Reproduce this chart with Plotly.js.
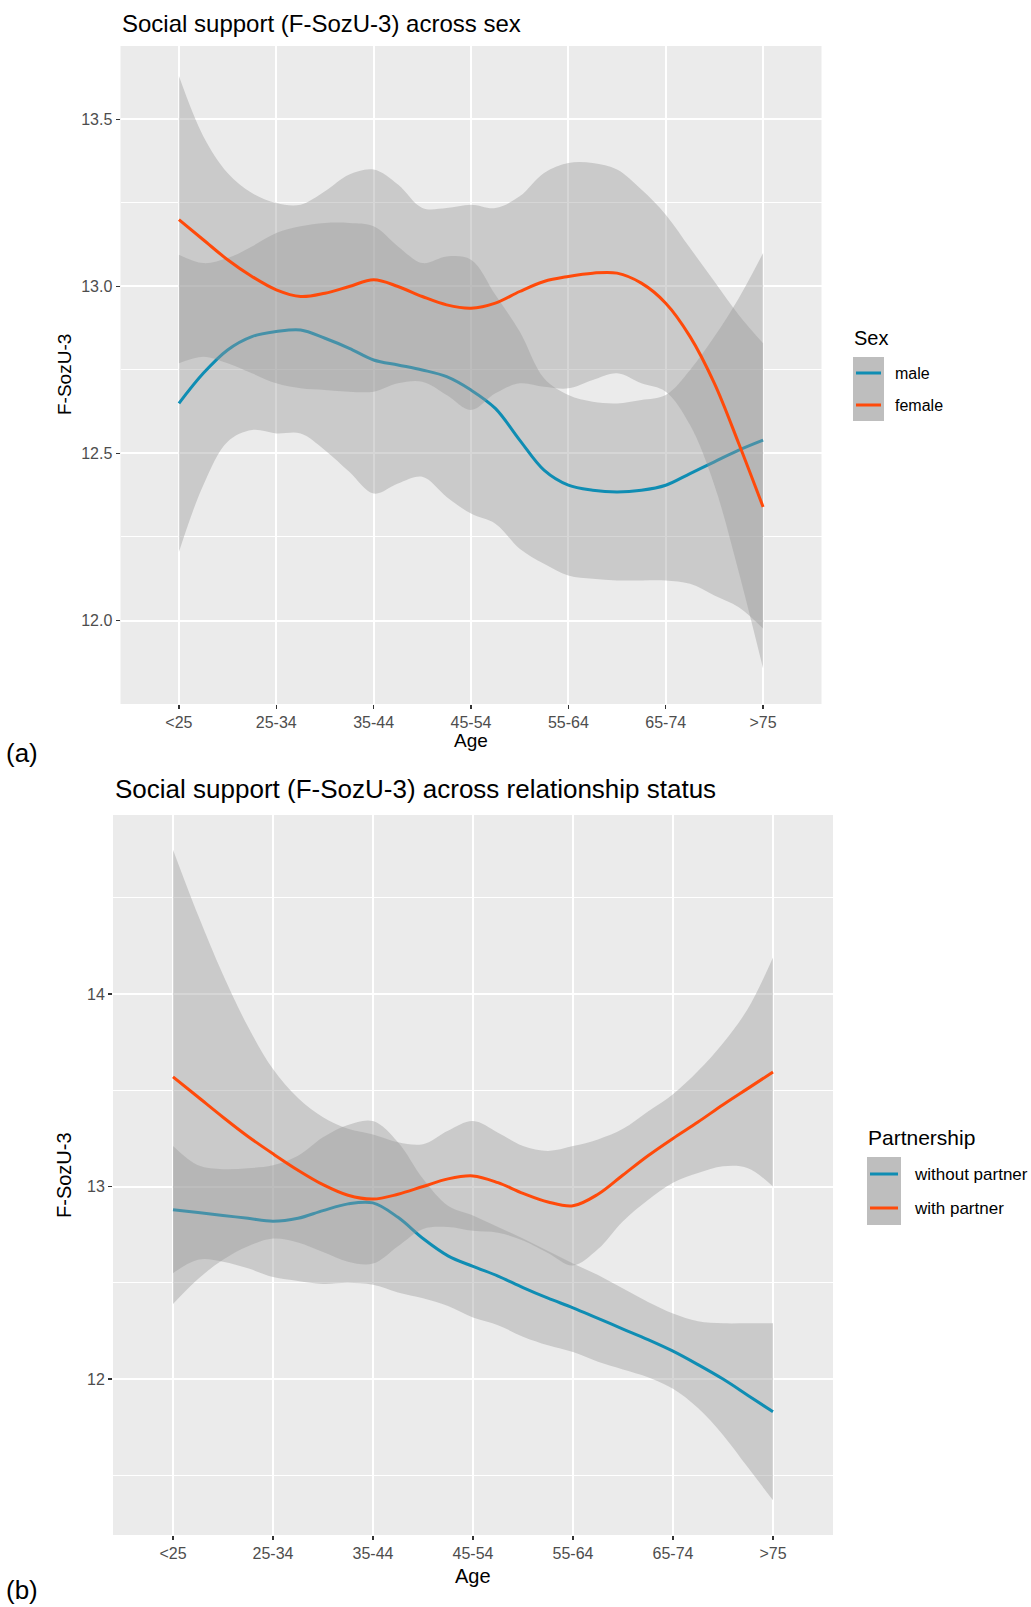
<!DOCTYPE html>
<html>
<head>
<meta charset="utf-8">
<script src="https://cdn.plot.ly/plotly-3.0.1.min.js"></script>
<style>html,body{margin:0;padding:0;background:#fff;}#chart{width:1031px;height:1607px;}</style>
</head>
<body>
<div id="chart"></div>
<script>
// ---------- data ----------
const ageLabels = ['<25', '25-34', '35-44', '45-54', '55-64', '65-74', '>75'];
const ageTicks = [0, 1, 2, 3, 4, 5, 6];
const xPos = [0, 0.25, 0.5, 0.75, 1, 1.25, 1.5, 1.75, 2, 2.25, 2.5, 2.75, 3, 3.25, 3.5, 3.75, 4, 4.25, 4.5, 4.75, 5, 5.25, 5.5, 5.75, 6];

// panel (a): sex
const sexGroups = ['male', 'female'];
const maleFit   = [12.65, 12.74, 12.81, 12.85, 12.865, 12.87, 12.845, 12.815, 12.78, 12.765, 12.75, 12.73, 12.69, 12.635, 12.54, 12.45, 12.405, 12.39, 12.385, 12.39, 12.405, 12.44, 12.475, 12.51, 12.54];
const maleUpper = [13.095, 13.07, 13.085, 13.12, 13.16, 13.18, 13.19, 13.19, 13.18, 13.12, 13.07, 13.09, 13.08, 12.975, 12.865, 12.725, 12.675, 12.655, 12.65, 12.66, 12.675, 12.75, 12.85, 12.965, 13.10];
const maleLower = [12.205, 12.405, 12.535, 12.57, 12.56, 12.56, 12.51, 12.445, 12.38, 12.41, 12.43, 12.37, 12.32, 12.29, 12.215, 12.17, 12.135, 12.125, 12.12, 12.12, 12.12, 12.11, 12.075, 12.04, 11.976];
const femaleFit   = [13.20, 13.14, 13.08, 13.03, 12.99, 12.97, 12.98, 13.00, 13.02, 13.00, 12.97, 12.945, 12.935, 12.95, 12.985, 13.015, 13.03, 13.04, 13.04, 13.01, 12.95, 12.85, 12.71, 12.53, 12.34];
const femaleUpper = [13.63, 13.45, 13.34, 13.28, 13.25, 13.245, 13.285, 13.335, 13.35, 13.305, 13.235, 13.235, 13.245, 13.235, 13.27, 13.34, 13.37, 13.37, 13.35, 13.29, 13.215, 13.115, 13.015, 12.915, 12.83];
const femaleLower = [12.77, 12.79, 12.77, 12.74, 12.71, 12.695, 12.69, 12.685, 12.685, 12.71, 12.715, 12.675, 12.63, 12.68, 12.71, 12.70, 12.695, 12.72, 12.74, 12.71, 12.685, 12.585, 12.405, 12.145, 11.856];

// panel (b): relationship status
const partnerGroups = ['without partner', 'with partner'];
const noPartnerFit   = [12.88, 12.865, 12.85, 12.835, 12.82, 12.835, 12.875, 12.91, 12.915, 12.84, 12.73, 12.64, 12.585, 12.535, 12.475, 12.42, 12.37, 12.315, 12.26, 12.205, 12.145, 12.075, 12.0, 11.915, 11.83];
const noPartnerUpper = [13.21, 13.11, 13.09, 13.095, 13.11, 13.16, 13.256, 13.32, 13.34, 13.23, 13.04, 12.90, 12.85, 12.79, 12.73, 12.665, 12.60, 12.54, 12.47, 12.40, 12.34, 12.30, 12.29, 12.29, 12.29];
const noPartnerLower = [12.55, 12.62, 12.61, 12.575, 12.53, 12.51, 12.494, 12.50, 12.49, 12.45, 12.42, 12.38, 12.32, 12.28, 12.22, 12.175, 12.14, 12.09, 12.05, 12.01, 11.95, 11.85, 11.71, 11.54, 11.37];
const partnerFit   = [13.57, 13.465, 13.36, 13.26, 13.17, 13.085, 13.01, 12.955, 12.935, 12.96, 13.0, 13.04, 13.055, 13.02, 12.965, 12.92, 12.90, 12.96, 13.06, 13.16, 13.25, 13.335, 13.425, 13.51, 13.595];
const partnerUpper = [14.75, 14.41, 14.10, 13.83, 13.61, 13.46, 13.36, 13.30, 13.27, 13.23, 13.22, 13.29, 13.34, 13.28, 13.21, 13.185, 13.21, 13.245, 13.30, 13.39, 13.48, 13.60, 13.745, 13.925, 14.19];
const partnerLower = [12.39, 12.52, 12.62, 12.69, 12.73, 12.71, 12.66, 12.61, 12.60, 12.69, 12.78, 12.79, 12.77, 12.76, 12.72, 12.655, 12.59, 12.675, 12.82, 12.93, 13.02, 13.07, 13.105, 13.095, 13.0];

// ---------- styling ----------
const W = 1031, H = 1607;
const px = v => v / W;
const py = v => 1 - v / H;
const FONT = 'Liberation Sans, Arial, Helvetica, sans-serif';
const TEAL = '#0F8DB3';
const ORANGE = '#FF4A0A';
const RIBBON = 'rgba(153,153,153,0.4)';
const groupColors = [TEAL, ORANGE];

function smoothGroup(xa, ya, name, fit, upper, lower, color) {
  return [
    {x: xPos, y: upper, xaxis: xa, yaxis: ya, mode: 'lines', line: {width: 0, shape: 'spline', smoothing: 1},
     hoverinfo: 'skip', showlegend: false, name: name + ' upper'},
    {x: xPos, y: lower, xaxis: xa, yaxis: ya, mode: 'lines', line: {width: 0, shape: 'spline', smoothing: 1},
     fill: 'tonexty', fillcolor: RIBBON, hoverinfo: 'skip', showlegend: false, name: name + ' lower'},
    {x: xPos, y: fit, xaxis: xa, yaxis: ya, mode: 'lines', line: {width: 3, color: color, shape: 'spline', smoothing: 1},
     showlegend: false, name: name}
  ];
}

const data = [].concat(
  smoothGroup('x', 'y', sexGroups[0], maleFit, maleUpper, maleLower, groupColors[0]),
  smoothGroup('x', 'y', sexGroups[1], femaleFit, femaleUpper, femaleLower, groupColors[1]),
  smoothGroup('x2', 'y2', partnerGroups[0], noPartnerFit, noPartnerUpper, noPartnerLower, groupColors[0]),
  smoothGroup('x2', 'y2', partnerGroups[1], partnerFit, partnerUpper, partnerLower, groupColors[1])
);

const xCommon = {
  tickmode: 'array', tickvals: ageTicks, ticktext: ageLabels, range: [-0.6, 6.6],
  showgrid: true, gridcolor: '#FFFFFF', gridwidth: 2, zeroline: false, showline: false,
  ticks: 'outside', ticklen: 4, tickwidth: 1.5, tickcolor: '#333333',
  tickfont: {family: FONT, size: 16, color: '#4D4D4D'}, fixedrange: true
};
const yCommon = {
  showgrid: true, gridcolor: '#FFFFFF', gridwidth: 2, zeroline: false, showline: false,
  ticks: 'outside', ticklen: 4, tickwidth: 1.5, tickcolor: '#333333',
  tickfont: {family: FONT, size: 16, color: '#4D4D4D'}, fixedrange: true
};

const annotations = [
  {text: 'Social support (F-SozU-3) across sex', x: px(120), y: py(24), xanchor: 'left', yanchor: 'middle', size: 24},
  {text: 'Social support (F-SozU-3) across relationship status', x: px(113), y: py(789), xanchor: 'left', yanchor: 'middle', size: 26},
  {text: 'Age', x: px(471), y: py(741), xanchor: 'center', yanchor: 'middle', size: 19},
  {text: 'Age', x: px(473), y: py(1576), xanchor: 'center', yanchor: 'middle', size: 20},
  {text: 'F-SozU-3', x: px(64), y: py(375), xanchor: 'center', yanchor: 'middle', size: 19, angle: -90},
  {text: 'F-SozU-3', x: px(64), y: py(1175), xanchor: 'center', yanchor: 'middle', size: 20, angle: -90},
  {text: '(a)', x: px(4), y: py(753), xanchor: 'left', yanchor: 'middle', size: 26},
  {text: '(b)', x: px(4), y: py(1590), xanchor: 'left', yanchor: 'middle', size: 26},
  {text: 'Sex', x: px(852), y: py(338), xanchor: 'left', yanchor: 'middle', size: 20},
  {text: sexGroups[0], x: px(893), y: py(373), xanchor: 'left', yanchor: 'middle', size: 16},
  {text: sexGroups[1], x: px(893), y: py(405), xanchor: 'left', yanchor: 'middle', size: 16},
  {text: 'Partnership', x: px(866), y: py(1137), xanchor: 'left', yanchor: 'middle', size: 21},
  {text: partnerGroups[0], x: px(912), y: py(1174), xanchor: 'left', yanchor: 'middle', size: 17},
  {text: partnerGroups[1], x: px(912), y: py(1208), xanchor: 'left', yanchor: 'middle', size: 17}
].map(a => ({
  text: a.text, x: a.x, y: a.y, xref: 'paper', yref: 'paper', xanchor: a.xanchor, yanchor: a.yanchor,
  showarrow: false, textangle: a.angle || 0, font: {family: FONT, size: a.size, color: '#000000'}
}));

const shapes = [
  {type: 'rect', xref: 'paper', yref: 'paper', x0: px(853), x1: px(884), y0: py(357), y1: py(421), fillcolor: '#BEBEBE', line: {width: 0}},
  {type: 'line', xref: 'paper', yref: 'paper', x0: px(856), x1: px(881), y0: py(373), y1: py(373), line: {color: groupColors[0], width: 3}},
  {type: 'line', xref: 'paper', yref: 'paper', x0: px(856), x1: px(881), y0: py(405), y1: py(405), line: {color: groupColors[1], width: 3}},
  {type: 'rect', xref: 'paper', yref: 'paper', x0: px(867), x1: px(901), y0: py(1157), y1: py(1225), fillcolor: '#BEBEBE', line: {width: 0}},
  {type: 'line', xref: 'paper', yref: 'paper', x0: px(870), x1: px(898), y0: py(1174), y1: py(1174), line: {color: groupColors[0], width: 3}},
  {type: 'line', xref: 'paper', yref: 'paper', x0: px(870), x1: px(898), y0: py(1208), y1: py(1208), line: {color: groupColors[1], width: 3}}
];

const layout = {
  width: W, height: H,
  margin: {l: 0, r: 0, t: 0, b: 0},
  paper_bgcolor: '#FFFFFF', plot_bgcolor: '#EBEBEB',
  showlegend: false,
  font: {family: FONT},
  xaxis: Object.assign({}, xCommon, {domain: [px(120.5), px(821.5)], anchor: 'y'}),
  yaxis: Object.assign({}, yCommon, {domain: [py(704), py(46)], anchor: 'x', range: [11.75, 13.72],
    tick0: 12, dtick: 0.5, tickformat: '.1f',
    minor: {tick0: 12, dtick: 0.25, showgrid: true, gridcolor: '#FFFFFF', gridwidth: 1, ticks: ''}}),
  xaxis2: Object.assign({}, xCommon, {domain: [px(113), px(833)], anchor: 'y2'}),
  yaxis2: Object.assign({}, yCommon, {domain: [py(1535), py(815)], anchor: 'x2', range: [11.19, 14.93],
    tick0: 12, dtick: 1,
    minor: {tick0: 12, dtick: 0.5, showgrid: true, gridcolor: '#FFFFFF', gridwidth: 1, ticks: ''}}),
  annotations: annotations,
  shapes: shapes
};

Plotly.newPlot('chart', data, layout, {displayModeBar: false, staticPlot: true});
</script>
</body>
</html>
